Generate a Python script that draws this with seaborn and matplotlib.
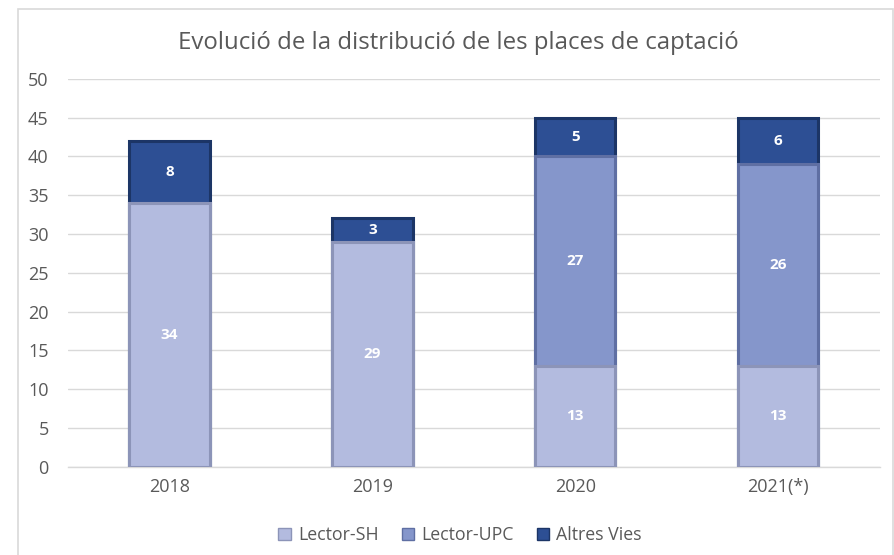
import matplotlib
matplotlib.use("Agg")
import matplotlib.pyplot as plt
import seaborn as sns
import pandas as pd
import numpy as np
from matplotlib.patches import Rectangle, Patch

years = ["2018", "2019", "2020", "2021(*)"]
lector_sh = [34, 29, 13, 13]
lector_upc = [0, 0, 27, 26]
altres_vies = [8, 3, 5, 6]
series_names = ["Lector-SH", "Lector-UPC", "Altres Vies"]
y_ticks = [0, 5, 10, 15, 20, 25, 30, 35, 40, 45, 50]
title = "Evolució de la distribució de les places de captació"

colors = ["#b3bbdf", "#8596cb", "#2d4f94"]
edges = ["#8c94b8", "#5f6fa3", "#1c3566"]

sns.set_style("white")
plt.rcParams['font.family'] = ['Open Sans', 'DejaVu Sans']

fig = plt.figure(figsize=(8.95, 5.55), dpi=100)
ax = fig.add_axes([0.076, 0.159, 0.907, 0.699])

df = pd.DataFrame({"year": years, "Lector-SH": lector_sh,
                   "Lector-UPC": lector_upc, "Altres Vies": altres_vies})
series = [np.array(df[n].values, dtype=float) for n in series_names]
cums = np.cumsum(series, axis=0)

# Draw cumulative totals from the top series down so lower segments overlay
for i in reversed(range(len(series_names))):
    sns.barplot(x=df["year"], y=cums[i], ax=ax, color=colors[i], width=0.395,
                saturation=1, edgecolor=edges[i], linewidth=2.2, zorder=3)

bottom = np.zeros(len(years))
for vals in series:
    for j, (v, b) in enumerate(zip(vals, bottom)):
        if v > 0:
            ax.text(j, b + v / 2, f"{int(v)}", ha="center", va="center",
                    color="white", fontsize=11, fontweight="bold", zorder=5)
    bottom = bottom + vals

ax.set_xlim(-0.5, len(years) - 0.5)
ax.set_ylim(0, 50)
ax.set_yticks(y_ticks)
ax.yaxis.grid(True, color="#d9d9d9", linewidth=1, zorder=0)
ax.set_axisbelow(True)
for s in ["top", "right", "left"]:
    ax.spines[s].set_visible(False)
ax.spines["bottom"].set_color("#d9d9d9")
ax.spines["bottom"].set_linewidth(1)
ax.tick_params(axis="both", length=0, labelsize=13, labelcolor="#595959")
ax.tick_params(axis="y", pad=14)
ax.tick_params(axis="x", pad=8)
ax.set_xlabel("")
ax.set_ylabel("")

fig.text(0.512, 0.922, title, ha="center", va="center", fontsize=17.3, color="#595959")

handles = [Patch(facecolor=c, edgecolor=e, linewidth=1) for c, e in zip(colors, edges)]
fig.legend(handles, series_names, loc="center", bbox_to_anchor=(0.514, 0.036), ncol=3,
           frameon=False, fontsize=12.8, handlelength=0.7, handleheight=0.7,
           handletextpad=0.4, columnspacing=1.3, labelcolor="#595959")

fig.patches.append(Rectangle((18 / 895, -0.1), (893 - 18) / 895, 1.1 - 9 / 555,
                             transform=fig.transFigure, fill=False,
                             edgecolor="#d9d9d9", linewidth=1.2))

fig.savefig("out.png", dpi=100, facecolor="white")
